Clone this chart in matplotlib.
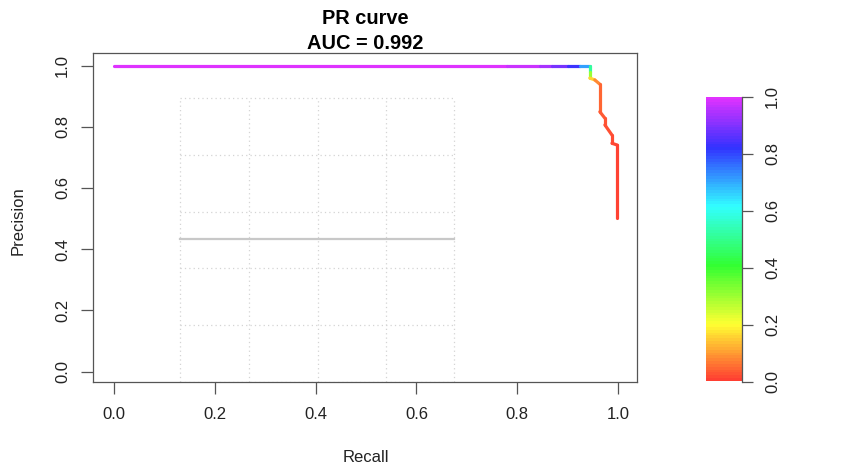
import numpy as np
import matplotlib
matplotlib.use("Agg")
import matplotlib.pyplot as plt
from matplotlib.collections import LineCollection
from matplotlib.colors import ListedColormap, hsv_to_rgb

plt.rcParams['font.family'] = ['Liberation Sans', 'DejaVu Sans']

# PR curve points (recall, precision) and the threshold used for colouring
recall = [0.000, 0.780, 0.845, 0.870, 0.900, 0.925, 0.944, 0.944, 0.944,
          0.954, 0.964, 0.964, 0.974, 0.974, 0.988, 0.988, 0.999, 0.999]
precision = [1.000, 1.000, 1.000, 1.000, 1.000, 1.000, 1.000, 0.980, 0.959,
             0.953, 0.939, 0.849, 0.828, 0.806, 0.773, 0.746, 0.740, 0.503]
threshold = [1.00, 0.99, 0.96, 0.92, 0.86, 0.80, 0.62, 0.40, 0.20,
             0.10, 0.05, 0.03, 0.025, 0.02, 0.015, 0.01, 0.005, 0.0]

auc = 0.992
baseline = 0.432

x_ticks = [0.0, 0.2, 0.4, 0.6, 0.8, 1.0]
y_ticks = [0.0, 0.2, 0.4, 0.6, 0.8, 1.0]
cbar_ticks = [0.0, 0.2, 0.4, 0.6, 0.8, 1.0]

# the stray dotted grid that sits inside the plot
grid_x = [0.131, 0.268, 0.404, 0.539, 0.675]
grid_y = [-0.033, 0.153, 0.338, 0.523, 0.708, 0.894]


def rainbow(t):
    t = np.asarray(t, dtype=float)
    h = 0.01 + 0.80 * t
    hsv = np.stack([h, np.full_like(h, 0.8), np.ones_like(h)], axis=-1)
    return hsv_to_rgb(hsv)


W, H = 858, 472
fig = plt.figure(figsize=(W / 100, H / 100), dpi=100)
fig.patch.set_facecolor('white')

ax = fig.add_axes([93 / W, (H - 381.7) / H, (637 - 93) / W, (381.7 - 53) / H])
ax.set_xlim(-0.0417, 1.0377)
ax.set_ylim(-0.033, 1.041)

# grid
for gx in grid_x:
    ax.plot([gx, gx], [grid_y[0], grid_y[-1]], color='#d4d4d4', lw=0.9,
            ls=(0, (1, 2.5)), zorder=1)
for gy in grid_y:
    ax.plot([grid_x[0], grid_x[-1]], [gy, gy], color='#d4d4d4', lw=0.9,
            ls=(0, (1, 2.5)), zorder=1)

# random baseline
ax.plot([grid_x[0], grid_x[-1]], [baseline, baseline], color='#c8c8c8',
        lw=1.6, zorder=2)

# coloured curve
pts = np.column_stack([recall, precision])
segs = np.stack([pts[:-1], pts[1:]], axis=1)
thr = np.asarray(threshold)
seg_col = rainbow((thr[:-1] + thr[1:]) / 2)
lc = LineCollection(segs, colors=seg_col, linewidths=2.3,
                    capstyle='round', joinstyle='round', zorder=3)
ax.add_collection(lc)

for s in ax.spines.values():
    s.set_color('#555555')
    s.set_linewidth(0.9)

ax.set_xticks(x_ticks)
ax.set_xticklabels([f"{v:.1f}" for v in x_ticks])
ax.set_yticks(y_ticks)
ax.set_yticklabels([f"{v:.1f}" for v in y_ticks], rotation=90, va='center')
ax.tick_params(axis='both', direction='out', length=8.4, width=0.9,
               color='#555555', labelsize=12, labelcolor='#222222')
ax.tick_params(axis='x', pad=9.5)
ax.tick_params(axis='y', pad=8)

ax.set_title(f"PR curve\nAUC = {auc}", fontsize=14.4, fontweight='bold',
             linespacing=1.4, pad=-1.5)

fig.text(366 / W, 1 - 458 / H, 'Recall', ha='center', va='center',
         fontsize=12, color='#222222')
fig.text(18 / W, 1 - 221 / H, 'Precision', ha='center', va='center',
         rotation=90, fontsize=12, color='#222222')

# colour bar
cax = fig.add_axes([706 / W, (H - 381.5) / H, 36 / W, (381.5 - 96.7) / H])
levels = np.linspace(0, 1, 100)
cmap = ListedColormap(rainbow(levels))
cax.imshow(levels.reshape(-1, 1), origin='lower', extent=[0, 1, 0, 1],
           aspect='auto', cmap=cmap, interpolation='nearest')
cax.set_xlim(0, 1)
cax.set_ylim(0, 1)
for name, s in cax.spines.items():
    s.set_visible(name == 'right')
cax.spines['right'].set_color('#555555')
cax.spines['right'].set_linewidth(0.9)
cax.set_xticks([])
cax.yaxis.tick_right()
cax.set_yticks(cbar_ticks)
cax.set_yticklabels([f"{v:.1f}" for v in cbar_ticks], rotation=90, va='center')
cax.tick_params(axis='y', direction='out', length=8, width=0.9,
                color='#555555', labelsize=12, labelcolor='#222222', pad=8.5)

fig.savefig('out.png', dpi=100, facecolor='white')
